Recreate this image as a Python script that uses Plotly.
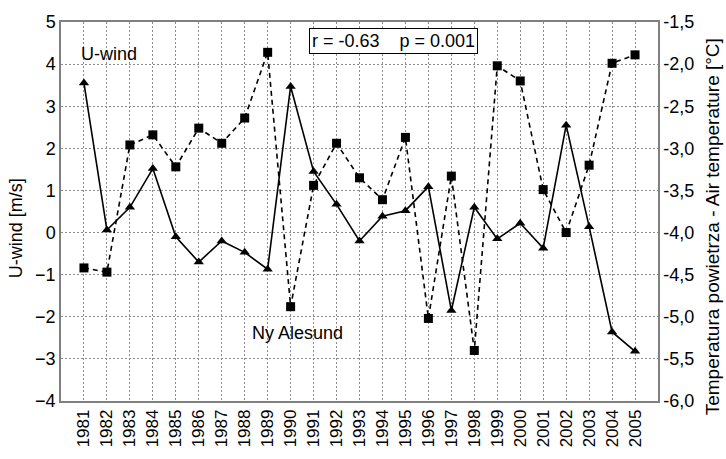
import plotly.graph_objects as go

years = list(range(1981, 2006))
uwind = [3.55, 0.06, 0.6, 1.52, -0.1, -0.7, -0.2, -0.47, -0.87, 3.47, 1.45, 0.67, -0.2, 0.39,
         0.52, 1.09, -1.85, 0.6, -0.15, 0.22, -0.37, 2.55, 0.14, -2.36, -2.82]
temp = [-4.42, -4.47, -2.96, -2.84, -3.22, -2.76, -2.94, -2.64, -1.86, -4.88, -3.44, -2.94, -3.35,
        -3.61, -2.87, -5.02, -3.33, -5.40, -2.02, -2.20, -3.49, -4.0, -3.2, -1.99, -1.89]
left_ticks = [5, 4, 3, 2, 1, 0, -1, -2, -3, -4]
right_ticks = [-1.5, -2.0, -2.5, -3.0, -3.5, -4.0, -4.5, -5.0, -5.5, -6.0]
right_labels = ["-1,5", "-2,0", "-2,5", "-3,0", "-3,5", "-4,0", "-4,5", "-5,0", "-5,5", "-6,0"]

FONT = "Liberation Sans, Arial, sans-serif"
GRID = "#8c8c8c"

fig = go.Figure()
fig.add_trace(go.Scatter(x=years, y=temp, yaxis="y2", mode="lines+markers",
                         line=dict(color="black", width=1.6, dash="5px,4px"),
                         marker=dict(symbol="square", size=9, color="black"),
                         showlegend=False))
fig.add_trace(go.Scatter(x=years, y=uwind, mode="lines+markers",
                         line=dict(color="black", width=1.6),
                         marker=dict(symbol="triangle-up", size=9, color="black"),
                         showlegend=False))

fig.update_layout(
    width=726, height=459,
    margin=dict(l=61, r=68, t=20, b=44),
    paper_bgcolor="white", plot_bgcolor="white",
    font=dict(family=FONT, size=18, color="black"),
    xaxis=dict(range=[1980, 2006], tickvals=years, ticktext=[str(y) for y in years],
               tickangle=-90, showgrid=True, gridcolor=GRID, griddash="2px,2px", gridwidth=1,
               showline=True, linecolor="#808080", linewidth=1.5, mirror=True,
               ticks="", zeroline=False, tickfont=dict(size=17)),
    yaxis=dict(range=[-4, 5], tickvals=left_ticks, showgrid=True, gridcolor=GRID,
               griddash="2px,2px", gridwidth=1, showline=True, linecolor="#808080", linewidth=1.5,
               ticks="", zeroline=False, tickfont=dict(size=18)),
    yaxis2=dict(range=[-6.0, -1.5], overlaying="y", side="right", tickvals=right_ticks,
                ticktext=right_labels, showgrid=False, showline=True, linecolor="#808080",
                linewidth=1.5, ticks="", zeroline=False, tickfont=dict(size=18)),
)

# axis titles
fig.add_annotation(x=(16 - 61) / 597, y=(415 - 235) / 395, xref="paper", yref="paper",
                   text="U-wind [m/s]", textangle=-90, showarrow=False,
                   xanchor="center", yanchor="middle", font=dict(size=18))
fig.add_annotation(x=(712 - 61) / 597, y=(415 - 234) / 395, xref="paper", yref="paper",
                   text="Temperatura powietrza - Air temperature [°C]", textangle=-90, showarrow=False,
                   xanchor="center", yanchor="middle", font=dict(size=19))

fig.add_annotation(x=(79 - 61) / 597, y=(415 - 53) / 395, xref="paper", yref="paper",
                   text="U-wind", showarrow=False, xanchor="left", yanchor="middle", font=dict(size=18))
fig.add_annotation(x=(250 - 61) / 597, y=(415 - 344) / 395, xref="paper", yref="paper",
                   text="Ny Alesund", showarrow=False, xanchor="left", yanchor="middle", font=dict(size=18))
fig.add_annotation(x=(393.5 - 61) / 597, y=(415 - 40) / 395, xref="paper", yref="paper",
                   text="r = -0.63&nbsp;&nbsp;&nbsp; p = 0.001", showarrow=False,
                   xanchor="center", yanchor="middle", font=dict(size=18),
                   bordercolor="black", borderwidth=1, borderpad=2, bgcolor="white")

fig.write_html("out.html")
